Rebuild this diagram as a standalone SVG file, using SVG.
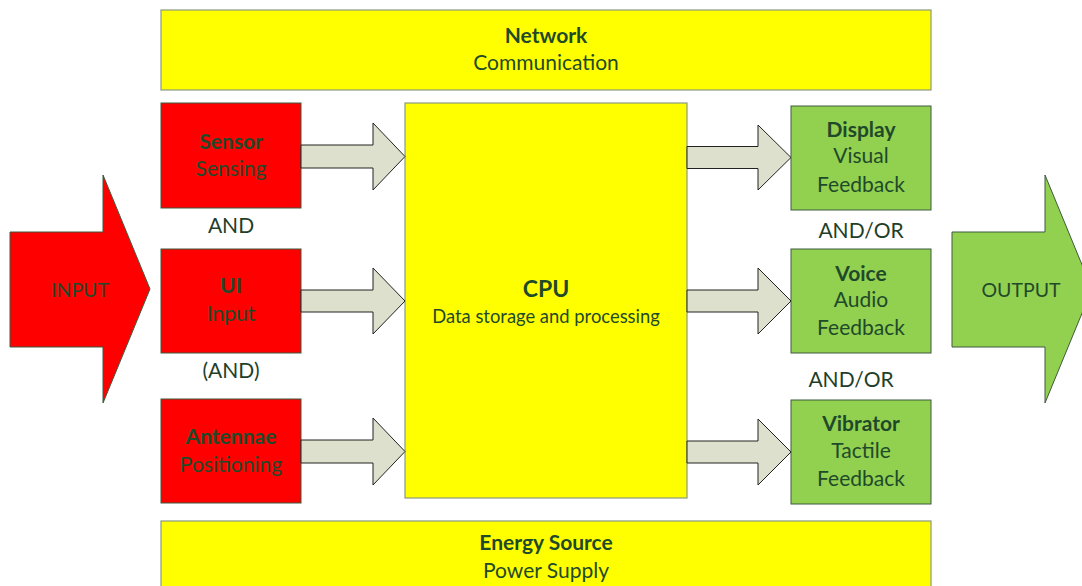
<svg xmlns="http://www.w3.org/2000/svg" width="1082" height="586" viewBox="0 0 1082 586">
<style>
.t{font-family:Lato,"Open Sans",sans-serif;fill:#1f4a2a;text-anchor:middle;font-size:21px}
.b{font-weight:bold}
.red{fill:#ff0000;stroke:#3f5a3f;stroke-width:1}
.grn{fill:#92d050;stroke:#3f5a3f;stroke-width:1}
.yel{fill:#ffff00;stroke:#8a9a80;stroke-width:1.2}
.arr{fill:#dde0cc;stroke:#222;stroke-width:1}
.o{fill:#1f3f2a}
</style>
<rect width="1082" height="586" fill="#fff"/>
<g id="network"><rect class="yel" x="161" y="10" width="770" height="80"/>
<text class="t b" x="546" y="43">Network</text><text class="t" x="546" y="70">Communication</text></g>
<g id="energy"><rect class="yel" x="161" y="521" width="770" height="90"/>
<text class="t b" x="546" y="550">Energy Source</text><text class="t" x="546" y="578">Power Supply</text></g>
<g id="input"><polygon points="10,232 103,232 103,175 150,289 103,403 103,347 10,347" fill="#ff0000" stroke="#3f5a3f"/>
<text class="t" x="80" y="297" style="font-size:19.5px">INPUT</text></g>
<g id="output"><polygon points="952,232 1045,232 1045,175 1092,289 1045,403 1045,347 952,347" fill="#92d050" stroke="#3f5a3f"/>
<text class="t" x="1021" y="297" style="font-size:19.5px">OUTPUT</text></g>
<g id="sensor"><rect class="red" x="161" y="103" width="140" height="105"/>
<text class="t b" x="231" y="149">Sensor</text><text class="t" x="231" y="176">Sensing</text></g>
<g id="ui"><rect class="red" x="161" y="249" width="140" height="104"/>
<text class="t b" x="231" y="293">UI</text><text class="t" x="231" y="321">Input</text></g>
<g id="antennae"><rect class="red" x="161" y="399" width="140" height="104"/>
<text class="t b" x="231" y="444">Antennae</text><text class="t" x="231" y="472">Positioning</text></g>
<g id="cpu"><rect class="yel" x="405" y="103" width="282" height="395"/>
<text class="t b" x="546" y="297" style="font-size:23px">CPU</text><text class="t" x="546" y="323" style="font-size:18.4px">Data storage and processing</text></g>
<g id="display"><rect class="grn" x="791" y="106" width="140" height="104"/>
<text class="t b" x="861" y="137">Display</text><text class="t" x="861" y="163">Visual</text><text class="t" x="861" y="192">Feedback</text></g>
<g id="voice"><rect class="grn" x="791" y="249" width="140" height="104"/>
<text class="t b" x="861" y="281">Voice</text><text class="t" x="861" y="307">Audio</text><text class="t" x="861" y="335">Feedback</text></g>
<g id="vibrator"><rect class="grn" x="791" y="400" width="140" height="104"/>
<text class="t b" x="861" y="431">Vibrator</text><text class="t" x="861" y="458">Tactile</text><text class="t" x="861" y="486">Feedback</text></g>
<g id="labels">
<text class="t o" x="231" y="233">AND</text>
<text class="t o" x="231" y="378">(AND)</text>
<text class="t o" x="861" y="238">AND/OR</text>
<text class="t o" x="851" y="387">AND/OR</text>
</g>
<g id="connectors">
<polygon class="arr" points="301,145 373,145 373,123 405,156.5 373,190 373,168 301,168"/>
<polygon class="arr" points="301,290 373,290 373,268 405,301 373,334 373,312 301,312"/>
<polygon class="arr" points="301,440 373,440 373,418 405,451.5 373,485 373,463 301,463"/>
<polygon class="arr" points="687,146.5 758,146.5 758,125 791,157.5 758,190 758,168.5 687,168.5"/>
<polygon class="arr" points="687,290 758,290 758,268 791,301 758,334 758,312 687,312"/>
<polygon class="arr" points="687,441 758,441 758,419 791,452 758,485 758,463 687,463"/>
</g>
</svg>
